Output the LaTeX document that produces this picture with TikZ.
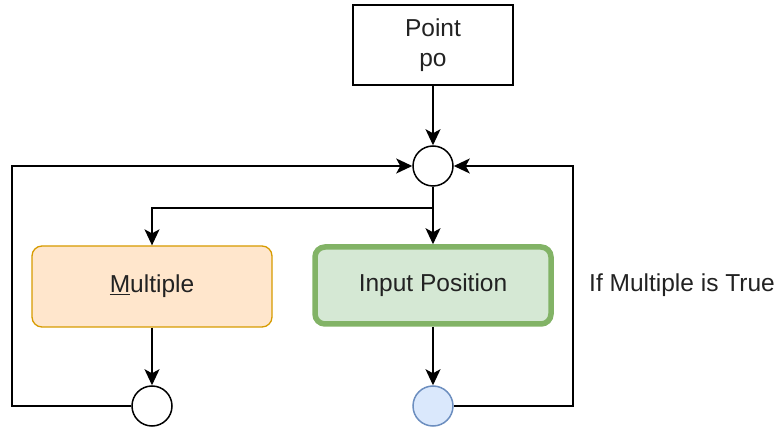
\documentclass[tikz,border=0pt]{standalone}
\usepackage{fontspec}
\setmainfont{Liberation Sans}
\usetikzlibrary{arrows.meta}
\definecolor{txt}{HTML}{222222}
\definecolor{orfill}{HTML}{FFE6CC}
\definecolor{ordraw}{HTML}{D79B00}
\definecolor{grfill}{HTML}{D5E8D4}
\definecolor{grdraw}{HTML}{82B366}
\definecolor{blfill}{HTML}{DAE8FC}
\definecolor{bldraw}{HTML}{6C8EBF}
\tikzset{
  lbl/.style={font=\fontsize{24.5}{30}\selectfont, text=txt},
  plainbox/.style={lbl, draw=black, line width=1.5pt, fill=white, minimum width=160pt, minimum height=80pt, inner sep=0pt, align=center},
  orbox/.style={lbl, draw=ordraw, fill=orfill, line width=1.3pt, rounded corners=10pt, minimum width=240pt, minimum height=81pt, inner sep=0pt},
  grbox/.style={lbl, draw=grdraw, fill=grfill, line width=5.5pt, rounded corners=10pt, minimum width=236pt, minimum height=77pt, inner sep=0pt},
  junc/.style={circle, draw=black, fill=white, line width=1.5pt, minimum size=40pt, inner sep=0pt},
  bjunc/.style={circle, draw=bldraw, fill=blfill, line width=1.5pt, minimum size=40pt, inner sep=0pt},
  conn/.style={draw=black, line width=1.6pt},
  arr/.style={conn, ->, >={Stealth[length=16pt,width=15pt,inset=4pt]}}
}
\begin{document}
\begin{tikzpicture}[x=1pt,y=-1pt]
\useasboundingbox (0,0) rectangle (777,430);
\node[plainbox] (point) at (433,45) {Point\\po};
\node[junc] (c0) at (433,166) {};
\node[orbox] (mult) at (152,286.5) {\underline{M}ultiple};
\node[grbox] (inp) at (433,285.5) {Input Position};
\node[junc] (c1) at (152,406) {};
\node[bjunc] (c2) at (433,406) {};
\node[lbl, anchor=west, inner sep=0pt] (cond) at (589,285) {If Multiple is True};
\coordinate (split) at (433,208);
\coordinate (lc) at (12,406);
\coordinate (rc) at (573,406);
\draw[arr] (point) -- (c0);
\draw[conn] (c0) -- (split);
\draw[arr] (split) -| (mult);
\draw[arr] (split) -- (inp);
\draw[arr] (mult) -- (c1);
\draw[arr] (inp) -- (c2);
\draw[arr] (c1) -- (lc) |- (c0);
\draw[arr] (c2) -- (rc) |- (c0);
\end{tikzpicture}
\end{document}
